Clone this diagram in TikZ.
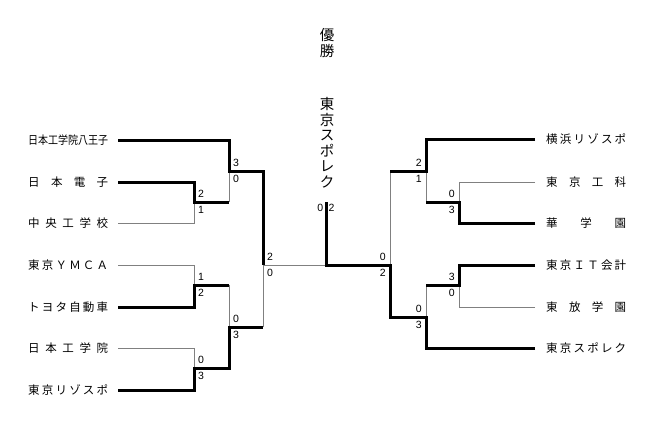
\documentclass[tikz,border=0pt]{standalone}
\usepackage{fontspec}
\setmainfont{Liberation Sans}
\newfontfamily\jp{Noto Sans CJK JP}
\newcommand{\nm}[1]{\makebox[80pt][l]{#1}}
\begin{document}
\begin{tikzpicture}[x=1pt,y=-1pt,
  team/.style={inner sep=0pt, font=\jp\fontsize{11.5}{12}\selectfont},
  thin/.style={draw=black!50, line width=0.9pt},
  thick/.style={draw=black, line width=3pt},
  sc/.style={inner sep=0pt, font=\fontsize{10.5}{11}\selectfont},
  vtitle/.style={inner sep=0pt, align=center, font=\jp\fontsize{14.5}{15.5}\selectfont}]
\useasboundingbox[fill=white] (0,0) rectangle (654,424);
% title
\node[vtitle] (title) at (327,43) {優\\勝};
\node[vtitle] (champ) at (327,142.5) {東\\京\\ス\\ポ\\レ\\ク};
% left teams
\node[team, anchor=west] (L1) at (28,140) {\nm{\scalebox{0.87}[1]{日本工学院八王子}}};
\node[team, anchor=west] (L2) at (28,182) {\nm{日\hfill 本\hfill 電\hfill 子}};
\node[team, anchor=west] (L3) at (28,223) {\nm{中\hfill 央\hfill 工\hfill 学\hfill 校}};
\node[team, anchor=west] (L4) at (28,265) {\nm{東\hfill 京\hfill Ｙ\hfill Ｍ\hfill Ｃ\hfill Ａ}};
\node[team, anchor=west] (L5) at (28,307) {\nm{ト\hfill ヨ\hfill タ\hfill 自\hfill 動\hfill 車}};
\node[team, anchor=west] (L6) at (28,348) {\nm{日\hfill 本\hfill 工\hfill 学\hfill 院}};
\node[team, anchor=west] (L7) at (28,390) {\nm{東\hfill 京\hfill リ\hfill ゾ\hfill ス\hfill ポ}};
% right teams
\node[team, anchor=west] (R1) at (546,139) {\nm{横\hfill 浜\hfill リ\hfill ゾ\hfill ス\hfill ポ}};
\node[team, anchor=west] (R2) at (546,182) {\nm{東\hfill 京\hfill 工\hfill 科}};
\node[team, anchor=west] (R3) at (546,223) {\nm{華\hfill 学\hfill 園}};
\node[team, anchor=west] (R4) at (546,265) {\nm{東\hfill 京\hfill Ｉ\hfill Ｔ\hfill 会\hfill 計}};
\node[team, anchor=west] (R5) at (546,307) {\nm{東\hfill 放\hfill 学\hfill 園}};
\node[team, anchor=west] (R6) at (546,348) {\nm{東\hfill 京\hfill ス\hfill ポ\hfill レ\hfill ク}};
% junctions
\coordinate (a1) at (194,202);
\coordinate (a2) at (229,171);
\coordinate (a3) at (194,285);
\coordinate (a4) at (194,368);
\coordinate (a5) at (229,327);
\coordinate (a6) at (263,265);
\coordinate (f) at (326,265);
\coordinate (ft) at (326,202);
\coordinate (b1) at (459,202);
\coordinate (b2) at (426,171);
\coordinate (b3) at (459,285);
\coordinate (b4) at (426,317);
\coordinate (b5) at (390,265);
% thin (losers)
\draw[thin] ([xshift=10pt]L3.east) -| (a1);
\draw[thin] (a2 |- a1) -- (a2);
\draw[thin] ([xshift=10pt]L4.east) -| (a3);
\draw[thin] ([xshift=10pt]L6.east) -| (a4);
\draw[thin] (a5 |- a3) -- (a5);
\draw[thin] (a6 |- a5) -- (a6) -- (f);
\draw[thin] ([xshift=-11pt]R2.west) -| (b1);
\draw[thin] (b2 |- b1) -- (b2);
\draw[thin] ([xshift=-11pt]R5.west) -| (b3);
\draw[thin] (b4 |- b3) -- (b4);
\draw[thin] (b5 |- b2) -- (b5);
% thick (winners)
\draw[thick] ([xshift=10pt]L2.east) -| (a1) -- (a2 |- a1);
\draw[thick] ([xshift=10pt]L1.east) -| (a2) -- (a6 |- a2) -- (a6);
\draw[thick] ([xshift=10pt]L5.east) -| (a3) -- (a5 |- a3);
\draw[thick] ([xshift=10pt]L7.east) -| (a4) -- (a5 |- a4) -- (a5) -- (a6 |- a5);
\draw[thick] ([xshift=-11pt]R3.west) -| (b1) -- (b2 |- b1);
\draw[thick] ([xshift=-11pt]R1.west) -| (b2) -- (b5 |- b2);
\draw[thick] ([xshift=-11pt]R4.west) -| (b3) -- (b4 |- b3);
\draw[thick] ([xshift=-11pt]R6.west) -| (b4) -- (b5 |- b4) -- (b5) -- (f) -- (ft);
% scores left
\node[sc, anchor=south west] (s1a) at ([xshift=4pt,yshift=4pt]a1) {2};
\node[sc, anchor=north west] (s1b) at ([xshift=4pt,yshift=-4pt]a1) {1};
\node[sc, anchor=south west] (s2a) at ([xshift=4pt,yshift=4pt]a2) {3};
\node[sc, anchor=north west] (s2b) at ([xshift=4pt,yshift=-4pt]a2) {0};
\node[sc, anchor=south west] (s3a) at ([xshift=4pt,yshift=4pt]a3) {1};
\node[sc, anchor=north west] (s3b) at ([xshift=4pt,yshift=-4pt]a3) {2};
\node[sc, anchor=south west] (s4a) at ([xshift=4pt,yshift=4pt]a4) {0};
\node[sc, anchor=north west] (s4b) at ([xshift=4pt,yshift=-4pt]a4) {3};
\node[sc, anchor=south west] (s5a) at ([xshift=4pt,yshift=4pt]a5) {0};
\node[sc, anchor=north west] (s5b) at ([xshift=4pt,yshift=-4pt]a5) {3};
\node[sc, anchor=south west] (s6a) at ([xshift=4pt,yshift=4pt]a6) {2};
\node[sc, anchor=north west] (s6b) at ([xshift=4pt,yshift=-4pt]a6) {0};
% scores right
\node[sc, anchor=south east] (t1a) at ([xshift=-4pt,yshift=4pt]b1) {0};
\node[sc, anchor=north east] (t1b) at ([xshift=-4pt,yshift=-4pt]b1) {3};
\node[sc, anchor=south east] (t2a) at ([xshift=-4pt,yshift=4pt]b2) {2};
\node[sc, anchor=north east] (t2b) at ([xshift=-4pt,yshift=-4pt]b2) {1};
\node[sc, anchor=south east] (t3a) at ([xshift=-4pt,yshift=4pt]b3) {3};
\node[sc, anchor=north east] (t3b) at ([xshift=-4pt,yshift=-4pt]b3) {0};
\node[sc, anchor=south east] (t4a) at ([xshift=-4pt,yshift=4pt]b4) {0};
\node[sc, anchor=north east] (t4b) at ([xshift=-4pt,yshift=-4pt]b4) {3};
\node[sc, anchor=south east] (t5a) at ([xshift=-4pt,yshift=4pt]b5) {0};
\node[sc, anchor=north east] (t5b) at ([xshift=-4pt,yshift=-4pt]b5) {2};
% final scores
\node[sc, anchor=east] (fa) at ([xshift=-2.5pt,yshift=-6pt]ft) {0};
\node[sc, anchor=west] (fb) at ([xshift=2.5pt,yshift=-6pt]ft) {2};
\end{tikzpicture}
\end{document}
